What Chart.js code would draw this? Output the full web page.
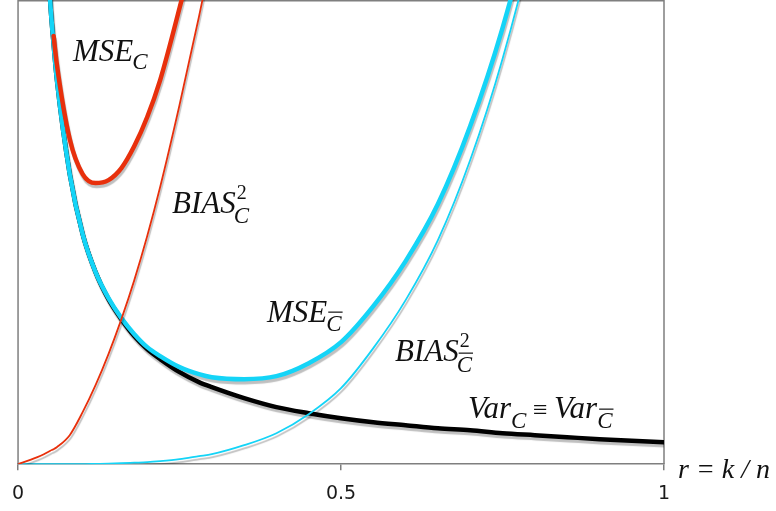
<!DOCTYPE html>
<html>
<head>
<meta charset="utf-8">
<script src="https://cdn.jsdelivr.net/npm/chart.js"></script>
<style>
  html, body { margin: 0; padding: 0; background: #fff; }
  canvas { display: block; }
</style>
</head>
<body>
<canvas id="mseChart" width="776" height="511"></canvas>
<script>
// r = k/n along the x axis
const rValues = [0, 0.02, 0.03, 0.04, 0.05, 0.055, 0.06, 0.08, 0.10, 0.12, 0.14, 0.16, 0.18, 0.20, 0.22, 0.25,
                 0.28, 0.30, 0.35, 0.40, 0.45, 0.50, 0.55, 0.60, 0.65, 0.70, 0.75, 0.80, 0.85, 0.90, 0.95, 1.00];

// (arbitrary units, axis runs 0..464)
const varC = [null, null, 767, 575, 460, 420, 385, 290, 230, 192, 165, 145, 128, 115, 105, 92,
              82, 77, 66, 57, 51, 46, 42, 39, 36, 34, 31, 29, 27, 25, 23.5, 22];
const biasC = [0, 4.5, 7, 10, 13.5, 15, 17, 29, 52, 79, 110, 145, 184, 228, 277, 359,
               447, 509, 674, null, null, null, null, null, null, null, null, null, null, null, null, null];
const mseC = [null, null, null, null, null, 428, 400, 325, 290, 281, 284, 296, 318, 347, 384, 456,
              534, 592, null, null, null, null, null, null, null, null, null, null, null, null, null, null];
const biasCbar = [0, 0, 0, 0, 0, 0, 0, 0, 0, 0.3, 0.6, 1, 1.5, 2, 3, 5,
                  8, 10, 19, 31, 50, 76, 116, 164, 224, 304, 405, 531, 690, null, null, null];
const mseCbar = [null, null, 767, 575, 460, 420, 385, 290, 230, 192, 166, 146, 130, 117, 108, 97,
                 90, 87, 85, 88, 101, 122, 158, 203, 260, 338, 436, 560, 717, null, null, null];

const xTicks = [0, 0.5, 1];

const red = '#e8300c';
const cyan = '#14d4f7';
const axisGray = '#7f7f7f';

function pts(vals) {
    return rValues.map((r, i) => ({ x: r, y: vals[i] }));
}

// gray drop shadow under every curve
const shadowPlugin = {
    id: 'shadow',
    beforeDatasetDraw(chart) {
        const ctx = chart.ctx;
        ctx.save();
        ctx.shadowColor = 'rgba(0,0,0,0.25)';
        ctx.shadowOffsetX = 1;
        ctx.shadowOffsetY = 3;
        ctx.shadowBlur = 1;
    },
    afterDatasetDraw(chart) {
        chart.ctx.restore();
    }
};

// box round the plot
const framePlugin = {
    id: 'frame',
    beforeDatasetsDraw(chart) {
        const ctx = chart.ctx;
        const a = chart.chartArea;
        ctx.save();
        ctx.strokeStyle = axisGray;
        ctx.lineWidth = 1.5;
        ctx.beginPath();
        ctx.moveTo(a.left, a.bottom);
        ctx.lineTo(a.left, a.top + 0.75);
        ctx.lineTo(a.right, a.top + 0.75);
        ctx.lineTo(a.right, a.bottom);
        ctx.stroke();
        ctx.restore();
    }
};

// curve names, italic serif with sub/superscripts
const serif = '"Liberation Serif", "DejaVu Serif", serif';
function txt(ctx, s, x, y, size, style) {
    ctx.font = (style || 'italic') + ' ' + size + 'px ' + serif;
    ctx.fillText(s, x, y);
    return x + ctx.measureText(s).width;
}
function cbar(ctx, x, y, size) {
    const end = txt(ctx, 'C', x, y, size);
    ctx.beginPath();
    ctx.moveTo(x + 2, y - size * 0.82);
    ctx.lineTo(end + 1, y - size * 0.82);
    ctx.lineWidth = 1.2;
    ctx.stroke();
    return end;
}

const labelPlugin = {
    id: 'labels',
    afterDatasetsDraw(chart) {
        const ctx = chart.ctx;
        ctx.save();
        ctx.fillStyle = '#111';
        ctx.strokeStyle = '#111';
        ctx.textBaseline = 'alphabetic';
        let x;

        x = txt(ctx, 'MSE', 73, 61, 31);
        txt(ctx, 'C', x - 1, 69, 23);

        x = txt(ctx, 'BIAS', 172, 213, 31);
        txt(ctx, '2', x + 1, 199, 20, 'normal');
        txt(ctx, 'C', x - 2, 223, 23);

        x = txt(ctx, 'MSE', 267, 322, 31);
        cbar(ctx, x - 1, 331, 23);

        x = txt(ctx, 'BIAS', 395, 361, 31);
        txt(ctx, '2', x + 1, 347, 20, 'normal');
        cbar(ctx, x - 2, 372, 23);

        x = txt(ctx, 'Var', 468, 418, 31);
        x = txt(ctx, 'C', x, 428, 23);
        x = txt(ctx, ' \u2261 ', x, 418, 26, 'normal');
        x = txt(ctx, 'Var', x, 418, 31);
        cbar(ctx, x, 428, 23);

        txt(ctx, 'r = k / n', 678, 478, 28);
        ctx.restore();
    }
};

new Chart(document.getElementById('mseChart').getContext('2d'), {
    type: 'line',
    data: {
        datasets: [
            { label: 'MSE_C', data: pts(mseC), borderColor: red, borderWidth: 4.5, order: 1 },
            { label: 'BIAS2_C', data: pts(biasC), borderColor: red, borderWidth: 1.8, order: 2 },
            { label: 'MSE_Cbar', data: pts(mseCbar), borderColor: cyan, borderWidth: 4.5, order: 3 },
            { label: 'BIAS2_Cbar', data: pts(biasCbar), borderColor: cyan, borderWidth: 1.8, order: 4 },
            { label: 'Var', data: pts(varC), borderColor: '#000', borderWidth: 4.5, order: 5 }
        ]
    },
    options: {
        responsive: false,
        animation: false,
        layout: { padding: { left: 16, right: 112, top: 0, bottom: -6 } },
        elements: {
            point: { radius: 0 },
            line: { cubicInterpolationMode: 'monotone', fill: false, borderCapStyle: 'round' }
        },
        plugins: { legend: { display: false }, tooltip: { enabled: false } },
        scales: {
            x: {
                type: 'linear',
                min: 0,
                max: 1,
                afterBuildTicks: (scale) => { scale.ticks = xTicks.map(v => ({ value: v })); },
                ticks: {
                    color: '#1a1a1a',
                    padding: 12,
                    maxRotation: 0,
                    callback: (v) => String(v),
                    font: { family: '"DejaVu Sans", sans-serif', size: 19 }
                },
                grid: { drawOnChartArea: false, drawTicks: true, tickLength: 6, color: axisGray, lineWidth: 1.5 },
                border: { color: axisGray, width: 1.5 }
            },
            y: { display: false, min: 0, max: 464 }
        }
    },
    plugins: [shadowPlugin, framePlugin, labelPlugin]
});
</script>
</body>
</html>
